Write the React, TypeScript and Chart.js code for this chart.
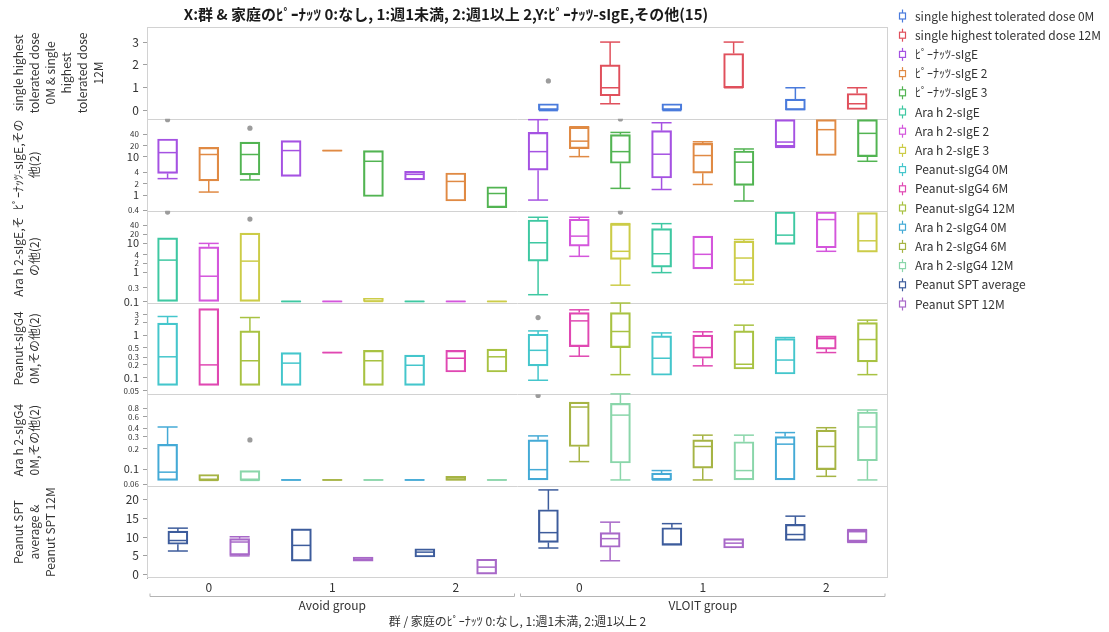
import { useEffect, useRef } from 'react';
import { Chart, registerables } from 'chart.js';

Chart.register(...registerables);

const FONT = "'Noto Sans CJK JP', 'Noto Sans', sans-serif";
const TEXT = '#333333';

// ---- category axis ----
const groupLabels = ['0', '1', '2', '0', '1', '2'];
const groupNames = ['Avoid group', 'VLOIT group'];

const chartTitle = 'X:群 & 家庭のﾋﾟｰﾅｯﾂ 0:なし, 1:週1未満, 2:週1以上 2,Y:ﾋﾟｰﾅｯﾂ-sIgE,その他(15)';
const xAxisTitle = '群 / 家庭のﾋﾟｰﾅｯﾂ 0:なし, 1:週1未満, 2:週1以上 2';

// ---- panel titles (already wrapped) ----
const p1Title = ['single highest', 'tolerated dose', '0M & single', 'highest', 'tolerated dose', '12M'];
const p2Title = ['ﾋﾟｰﾅｯﾂ-sIgE,その', '他(2)'];
const p3Title = ['Ara h 2-sIgE,そ', 'の他(2)'];
const p4Title = ['Peanut-sIgG4', '0M,その他(2)'];
const p5Title = ['Ara h 2-sIgG4', '0M,その他(2)'];
const p6Title = ['Peanut SPT', 'average &', 'Peanut SPT 12M'];

// ---- tick values ----
const p1Ticks = [0, 1, 2, 3];
const p2Ticks = [0.4, 1, 2, 4, 10, 20, 40];
const p3Ticks = [0.1, 0.3, 1, 2, 4, 10, 20, 40];
const p4Ticks = [0.05, 0.1, 0.2, 0.3, 0.5, 1, 2, 3];
const p5Ticks = [0.06, 0.1, 0.2, 0.3, 0.4, 0.6, 0.8];
const p6Ticks = [0, 5, 10, 15, 20];

// ---- box summaries: [min, q1, median, q3, max] for Avoid 0,1,2 then VLOIT 0,1,2 ----
type Box = [number, number, number, number, number] | null;

const shtd0M: Box[] = [null, null, null, [0, 0, 0, 0.3, 0.3], [0, 0, 0, 0.3, 0.3], [0, 0, 0.05, 0.5, 1]];
const shtd0MOut = [[], [], [], [1.3], [], []];
const shtd12M: Box[] = [null, null, null, [0.3, 0.65, 1, 2, 3], [1, 1, 1, 2.5, 3], [0.05, 0.05, 0.3, 0.75, 1]];
const shtd12MOut = [[], [], [], [], [], []];

const pnIgE: Box[] = [[2.7, 3.7, 13, 29.5, 29.5], [3.1, 3.1, 14.7, 26.8, 26.8], [2.5, 2.5, 3.5, 4.2, 4.2], [0.74, 4.5, 13.8, 44, 95], [1.4, 2.8, 11.8, 49, 79], [17.9, 18.5, 24.6, 95, 95]];
const pnIgEOut = [[95], [], [], [], [], []];
const pnIgE2: Box[] = [[1.2, 2.36, 11.6, 17.9, 17.9], [14.7, 14.7, 14.7, 14.7, 14.7], [0.7, 0.7, 2.28, 3.8, 3.8], [10.2, 16.6, 26, 60, 62], [1.9, 3.75, 10.9, 22.8, 25], [10.9, 10.9, 52, 95, 95]];
const pnIgE2Out = [[], [], [], [], [], []];
const pnIgE3: Box[] = [[2.5, 3.4, 11.6, 24.6, 24.6], [0.92, 0.92, 7.7, 14.7, 14.7], [0.47, 0.47, 1.1, 1.65, 1.65], [1.5, 6.85, 13.8, 38.5, 44], [0.7, 1.8, 7.3, 14.3, 16.2], [7.7, 10.2, 41.6, 95, 95]];
const pnIgE3Out = [[57], [], [], [99], [], []];

const araIgE: Box[] = [[0.1, 0.1, 2.6, 15, 15], [0.1, 0.1, 0.1, 0.1, 0.1], [0.1, 0.1, 0.1, 0.1, 0.1], [0.17, 2.4, 10.2, 61.5, 76], [0.97, 1.5, 4.3, 31, 46], [9, 9, 18.6, 115, 115]];
const araIgEOut = [[115], [], [], [], [], []];
const araIgE2: Box[] = [[0.1, 0.1, 0.73, 7.4, 9.7], [0.1, 0.1, 0.1, 0.1, 0.1], [0.1, 0.1, 0.1, 0.1, 0.1], [3.5, 7.85, 17.2, 65, 76], [1.3, 1.3, 4.1, 17.2, 17.2], [5.2, 6.9, 63.5, 115, 115]];
const araIgE2Out = [[], [], [], [], [], []];
const araIgE3: Box[] = [[0.1, 0.1, 2.4, 21.7, 21.7], [0.1, 0.1, 0.1, 0.127, 0.127], [0.1, 0.1, 0.1, 0.1, 0.1], [0.36, 2.77, 5.2, 45, 46], [0.39, 0.5, 3.06, 11.6, 13.2], [4.9, 4.9, 11.9, 110, 110]];
const araIgE3Out = [[66], [], [], [115], [], []];

const pnG4M0: Box[] = [[0.066, 0.066, 0.31, 1.92, 2.75], [0.066, 0.066, 0.22, 0.39, 0.39], [0.066, 0.066, 0.196, 0.34, 0.34], [0.087, 0.19, 0.44, 1.05, 1.26], [0.114, 0.114, 0.287, 0.96, 1.13], [0.122, 0.122, 0.26, 0.83, 0.88]];
const pnG4M0Out = [[], [], [], [2.6], [], []];
const pnG4M6: Box[] = [[0.066, 0.066, 0.2, 4.2, 4.2], [0.39, 0.39, 0.39, 0.39, 0.39], [0.136, 0.136, 0.287, 0.44, 0.44], [0.32, 0.54, 2.17, 3.4, 3.95], [0.19, 0.287, 0.51, 1.0, 1.2], [0.39, 0.47, 0.83, 0.96, 0.96]];
const pnG4M6Out = [[], [], [], [], [], []];
const pnG4M12: Box[] = [[0.066, 0.066, 0.25, 1.26, 2.6], [0.066, 0.066, 0.25, 0.44, 0.44], [0.136, 0.136, 0.31, 0.47, 0.47], [0.118, 0.51, 1.22, 3.4, 5.7], [0.16, 0.16, 0.207, 1.26, 1.72], [0.118, 0.235, 0.79, 1.98, 2.26]];
const pnG4M12Out = [[], [], [], [], [], []];

const araG4M0: Box[] = [[0.068, 0.068, 0.09, 0.232, 0.42], [0.069, 0.069, 0.069, 0.069, 0.069], [0.069, 0.069, 0.069, 0.069, 0.069], [0.069, 0.069, 0.098, 0.271, 0.31], [0.069, 0.069, 0.069, 0.087, 0.095], [0.069, 0.069, 0.234, 0.303, 0.347]];
const araG4M0Out = [[], [], [], [1.23], [], []];
const araG4M6: Box[] = [[0.068, 0.068, 0.068, 0.083, 0.083], [0.069, 0.069, 0.069, 0.069, 0.069], [0.068, 0.068, 0.07, 0.078, 0.078], [0.129, 0.216, 0.83, 0.98, 0.98], [0.069, 0.103, 0.216, 0.271, 0.318], [0.078, 0.098, 0.216, 0.377, 0.41]];
const araG4M6Out = [[], [], [], [], [], []];
const araG4M12: Box[] = [[0.068, 0.068, 0.068, 0.095, 0.095], [0.069, 0.069, 0.069, 0.069, 0.069], [0.069, 0.069, 0.069, 0.069, 0.069], [0.069, 0.123, 0.63, 0.94, 1.3], [0.069, 0.069, 0.095, 0.254, 0.318], [0.069, 0.133, 0.42, 0.7, 0.75]];
const araG4M12Out = [[0.27], [], [], [], [], []];

const sptAvg: Box[] = [[6.3, 8.1, 9.1, 11.6, 12.4], [3.6, 3.6, 7.8, 12.2, 12.2], [4.7, 4.7, 6.0, 6.9, 6.9], [7.1, 8.6, 11.2, 17.3, 22.6], [7.8, 7.8, 8.1, 12.5, 13.6], [9.1, 9.1, 10.7, 13.4, 15.6]];
const sptAvgOut = [[], [], [], [], [], []];
const spt12M: Box[] = [[5.0, 5.2, 8.7, 9.6, 10.1], [3.6, 3.6, 4.1, 4.7, 4.7], [0, 0, 2.0, 4.1, 4.1], [3.7, 7.3, 9.6, 11.2, 14], [7.1, 7.1, 8.4, 9.6, 9.6], [8.6, 8.8, 11.5, 11.8, 12]];
const spt12MOut = [[], [], [], [], [], []];

// ---- panel (stacked y axis) definitions, top to bottom ----
type PanelDef = { id: string; log: boolean; min: number; max: number; ticks: number[]; title: string[] };
const panels: PanelDef[] = [
  { id: 'yShtd', log: false, min: -0.36, max: 3.66, ticks: p1Ticks, title: p1Title },
  { id: 'yPnIgE', log: true, min: 0.39, max: 100, ticks: p2Ticks, title: p2Title },
  { id: 'yAraIgE', log: true, min: 0.092, max: 128, ticks: p3Ticks, title: p3Title },
  { id: 'yPnG4', log: true, min: 0.0406, max: 5.87, ticks: p4Ticks, title: p4Title },
  { id: 'yAraG4', log: true, min: 0.0558, max: 1.28, ticks: p5Ticks, title: p5Title },
  { id: 'ySpt', log: false, min: -0.9, max: 23.6, ticks: p6Ticks, title: p6Title },
];

type SeriesDef = { label: string; color: string; axis: string; slot: number; slots: number; boxes: Box[]; outliers: number[][] };
const series: SeriesDef[] = [
  { label: 'single highest tolerated dose 0M', color: '#4a7bdc', axis: 'yShtd', slot: 0, slots: 2, boxes: shtd0M, outliers: shtd0MOut },
  { label: 'single highest tolerated dose 12M', color: '#e0505c', axis: 'yShtd', slot: 1, slots: 2, boxes: shtd12M, outliers: shtd12MOut },
  { label: 'ﾋﾟｰﾅｯﾂ-sIgE', color: '#a552e2', axis: 'yPnIgE', slot: 0, slots: 3, boxes: pnIgE, outliers: pnIgEOut },
  { label: 'ﾋﾟｰﾅｯﾂ-sIgE 2', color: '#e08a44', axis: 'yPnIgE', slot: 1, slots: 3, boxes: pnIgE2, outliers: pnIgE2Out },
  { label: 'ﾋﾟｰﾅｯﾂ-sIgE 3', color: '#52b452', axis: 'yPnIgE', slot: 2, slots: 3, boxes: pnIgE3, outliers: pnIgE3Out },
  { label: 'Ara h 2-sIgE', color: '#3ec8a2', axis: 'yAraIgE', slot: 0, slots: 3, boxes: araIgE, outliers: araIgEOut },
  { label: 'Ara h 2-sIgE 2', color: '#d456dc', axis: 'yAraIgE', slot: 1, slots: 3, boxes: araIgE2, outliers: araIgE2Out },
  { label: 'Ara h 2-sIgE 3', color: '#cccc48', axis: 'yAraIgE', slot: 2, slots: 3, boxes: araIgE3, outliers: araIgE3Out },
  { label: 'Peanut-sIgG4 0M', color: '#44c6cc', axis: 'yPnG4', slot: 0, slots: 3, boxes: pnG4M0, outliers: pnG4M0Out },
  { label: 'Peanut-sIgG4 6M', color: '#e048b2', axis: 'yPnG4', slot: 1, slots: 3, boxes: pnG4M6, outliers: pnG4M6Out },
  { label: 'Peanut-sIgG4 12M', color: '#a8c242', axis: 'yPnG4', slot: 2, slots: 3, boxes: pnG4M12, outliers: pnG4M12Out },
  { label: 'Ara h 2-sIgG4 0M', color: '#44aad6', axis: 'yAraG4', slot: 0, slots: 3, boxes: araG4M0, outliers: araG4M0Out },
  { label: 'Ara h 2-sIgG4 6M', color: '#a6b444', axis: 'yAraG4', slot: 1, slots: 3, boxes: araG4M6, outliers: araG4M6Out },
  { label: 'Ara h 2-sIgG4 12M', color: '#8ad6aa', axis: 'yAraG4', slot: 2, slots: 3, boxes: araG4M12, outliers: araG4M12Out },
  { label: 'Peanut SPT average', color: '#3d5c9c', axis: 'ySpt', slot: 0, slots: 2, boxes: sptAvg, outliers: sptAvgOut },
  { label: 'Peanut SPT 12M', color: '#a868c8', axis: 'ySpt', slot: 1, slots: 2, boxes: spt12M, outliers: spt12MOut },
];

const BOX_W = 20;
const slotX = (g: number, slot: number, slots: number) => g + 0.5 + (slot - (slots - 1) / 2) / slots;
const isDecade = (v: number) => Math.abs(Math.log10(v) - Math.round(Math.log10(v))) < 1e-9;

function line(ctx: CanvasRenderingContext2D, x1: number, y1: number, x2: number, y2: number) {
  ctx.beginPath();
  ctx.moveTo(x1, y1);
  ctx.lineTo(x2, y2);
  ctx.stroke();
}

// whiskers, caps and medians on top of the bar-drawn boxes
const boxPartsPlugin = {
  id: 'boxParts',
  afterDatasetsDraw(chart: any) {
    const { ctx } = chart;
    const xs = chart.scales.x;
    ctx.save();
    ctx.lineWidth = 1.5;
    series.forEach((s) => {
      const ys = chart.scales[s.axis];
      ctx.strokeStyle = s.color;
      s.boxes.forEach((b, g) => {
        if (!b) return;
        const [mn, q1, md, q3, mx] = b;
        const cx = xs.getPixelForValue(slotX(g, s.slot, s.slots));
        const l = cx - BOX_W / 2;
        const r = cx + BOX_W / 2;
        const py = (v: number) => ys.getPixelForValue(v);
        if (mx > q3) {
          line(ctx, cx, py(q3), cx, py(mx));
          line(ctx, l, py(mx), r, py(mx));
        }
        if (mn < q1) {
          line(ctx, cx, py(q1), cx, py(mn));
          line(ctx, l, py(mn), r, py(mn));
        }
        line(ctx, l + 0.5, py(md), r - 0.5, py(md));
        if (q1 === q3) line(ctx, l, py(q1), r, py(q1));
      });
    });
    ctx.restore();
  },
};

const decorPlugin = {
  id: 'decor',
  beforeDatasetsDraw(chart: any) {
    const { ctx, chartArea: ca } = chart;
    ctx.save();
    ctx.strokeStyle = '#d2d2d2';
    ctx.lineWidth = 1;
    ctx.strokeRect(ca.left + 0.5, ca.top + 0.5, ca.right - ca.left - 1, ca.bottom - ca.top - 1);
    panels.slice(1).forEach((p) => {
      const y = Math.round(chart.scales[p.id].top) + 0.5;
      line(ctx, ca.left, y, ca.right, y);
    });
    ctx.restore();
  },
  afterDraw(chart: any) {
    const { ctx, chartArea: ca } = chart;
    const xs = chart.scales.x;
    ctx.save();
    ctx.fillStyle = '#1a1a1a';
    ctx.textAlign = 'center';
    ctx.textBaseline = 'middle';
    ctx.font = `bold 15px ${FONT}`;
    ctx.fillText(chartTitle, 446, 14);

    // rotated panel titles
    ctx.fillStyle = TEXT;
    ctx.font = `12px ${FONT}`;
    panels.forEach((p) => {
      const sc = chart.scales[p.id];
      const cy = (sc.top + sc.bottom) / 2;
      p.title.forEach((t, i) => {
        ctx.save();
        ctx.translate(18.5 + i * 16, cy);
        ctx.rotate(-Math.PI / 2);
        ctx.fillText(t, 0, 0);
        ctx.restore();
      });
    });

    // nested group brackets
    ctx.strokeStyle = '#b4b4b4';
    ctx.lineWidth = 1;
    groupNames.forEach((name, i) => {
      const x1 = xs.getPixelForValue(i * 3) + 3;
      const x2 = xs.getPixelForValue(i * 3 + 3) - 3;
      const y = 596.5;
      ctx.beginPath();
      ctx.moveTo(x1, y - 3);
      ctx.lineTo(x1, y);
      ctx.lineTo(x2, y);
      ctx.lineTo(x2, y - 3);
      ctx.stroke();
      ctx.fillStyle = TEXT;
      ctx.font = `12px ${FONT}`;
      ctx.fillText(name, (x1 + x2) / 2, 605);
    });
    ctx.fillText(xAxisTitle, (ca.left + ca.right) / 2, 621);

    // legend
    ctx.textAlign = 'left';
    series.forEach((s, i) => {
      const y = 16 + i * 19.2;
      ctx.strokeStyle = s.color;
      ctx.lineWidth = 1.2;
      ctx.strokeRect(899.5, y - 3, 6, 6);
      line(ctx, 902.5, y - 6.5, 902.5, y - 3);
      line(ctx, 902.5, y + 3, 902.5, y + 6.5);
      ctx.fillStyle = TEXT;
      ctx.fillText(s.label, 915, y);
    });
    ctx.restore();
  },
};

export default function App() {
  const canvasRef = useRef<HTMLCanvasElement | null>(null);

  useEffect(() => {
    if (!canvasRef.current) return;
    const datasets: any[] = [];
    series.forEach((s) => {
      datasets.push({
        type: 'bar',
        label: s.label,
        xAxisID: 'x',
        yAxisID: s.axis,
        data: s.boxes
          .map((b, g) => (b ? { x: slotX(g, s.slot, s.slots), y: [b[1], b[3]] } : null))
          .filter((d) => d !== null),
        backgroundColor: 'rgba(0,0,0,0)',
        borderColor: s.color,
        borderWidth: 1.5,
        borderSkipped: false,
        barThickness: BOX_W,
        grouped: false,
      });
    });
    series.forEach((s) => {
      const pts: { x: number; y: number }[] = [];
      s.outliers.forEach((vals, g) => vals.forEach((v) => pts.push({ x: slotX(g, s.slot, s.slots), y: v })));
      if (pts.length) {
        datasets.push({
          type: 'scatter',
          label: '',
          xAxisID: 'x',
          yAxisID: s.axis,
          data: pts,
          pointRadius: 2.6,
          backgroundColor: '#9c9c9c',
          borderWidth: 0,
        });
      }
    });

    const scales: any = {
      x: {
        type: 'linear',
        position: 'bottom',
        min: 0,
        max: 6,
        offset: false,
        bounds: 'data',
        afterBuildTicks: (a: any) => {
          a.ticks = groupLabels.map((_, i) => ({ value: i + 0.5 }));
        },
        afterFit: (a: any) => {
          a.height = 54;
        },
        ticks: {
          autoSkip: false,
          maxRotation: 0,
          padding: 2,
          color: TEXT,
          font: { family: FONT, size: 12 },
          callback: (_v: any, i: number) => groupLabels[i],
        },
        grid: { display: false, drawTicks: false, offset: false },
        border: { display: false },
      },
    };
    panels.forEach((p, i) => {
      scales[p.id] = {
        type: p.log ? 'logarithmic' : 'linear',
        position: 'left',
        stack: 'rows',
        stackWeight: 1,
        weight: panels.length - i,
        bounds: 'data',
        min: p.min,
        max: p.max,
        afterBuildTicks: (a: any) => {
          a.ticks = p.ticks.map((v) => ({ value: v }));
        },
        afterFit: (a: any) => {
          a.width = 40;
        },
        ticks: {
          autoSkip: false,
          padding: 4,
          color: TEXT,
          font: (c: any) => ({
            family: FONT,
            size: !p.log ? 12 : c.tick && isDecade(c.tick.value) ? 11 : 8,
          }),
          callback: (v: any) => String(v),
        },
        grid: { drawOnChartArea: false, drawTicks: true, tickLength: 4, color: '#a0a0a0' },
        border: { display: true, color: '#a8a8a8' },
      };
    });

    const chart = new Chart(canvasRef.current, {
      type: 'bar',
      data: { datasets },
      options: {
        animation: false,
        responsive: false,
        events: [],
        layout: { padding: { left: 107, right: 221, top: 27, bottom: 0 } },
        plugins: { legend: { display: false }, tooltip: { enabled: false }, title: { display: false } },
        scales,
      },
      plugins: [decorPlugin, boxPartsPlugin],
    } as any);
    return () => chart.destroy();
  }, []);

  return (
    <div style={{ position: 'fixed', left: 0, top: 0, width: 1109, height: 632, background: '#ffffff' }}>
      <canvas ref={canvasRef} width={1109} height={632} style={{ display: 'block' }} />
    </div>
  );
}
